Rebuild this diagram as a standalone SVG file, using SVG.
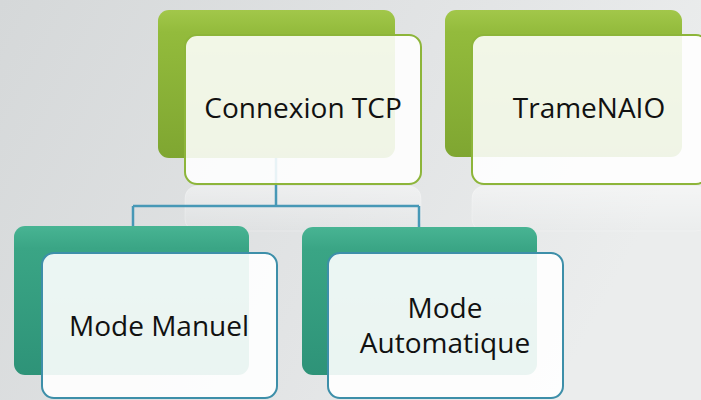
<svg xmlns="http://www.w3.org/2000/svg" width="701" height="400" viewBox="0 0 701 400">
<defs>
<linearGradient id="bg" x1="0" y1="0" x2="1" y2="0.3">
<stop offset="0" stop-color="#d5d8d9"/>
<stop offset="0.6" stop-color="#e2e4e5"/>
<stop offset="1" stop-color="#ebeded"/>
</linearGradient>
<linearGradient id="green" x1="0" y1="0" x2="0" y2="1">
<stop offset="0" stop-color="#a2c74a"/>
<stop offset="0.15" stop-color="#93bb3c"/>
<stop offset="1" stop-color="#7fa631"/>
</linearGradient>
<linearGradient id="teal" x1="0" y1="0" x2="0" y2="1">
<stop offset="0" stop-color="#48b493"/>
<stop offset="0.15" stop-color="#3aa585"/>
<stop offset="1" stop-color="#2e9378"/>
</linearGradient>
<linearGradient id="refl" x1="0" y1="0" x2="0" y2="1">
<stop offset="0" stop-color="#ffffff" stop-opacity="0.45"/>
<stop offset="1" stop-color="#ffffff" stop-opacity="0"/>
</linearGradient>
</defs>
<style>
.bgreen{fill:url(#green);}
.bteal{fill:url(#teal);}
.fgreen{fill:#ffffff;fill-opacity:0.88;stroke:#8db53a;stroke-width:2;}
.fteal{fill:#ffffff;fill-opacity:0.9;stroke:#3d8fa9;stroke-width:2;}
.refl{fill:url(#refl);stroke:#ffffff;stroke-opacity:0.25;}
.lbl{font-family:"Open Sans","DejaVu Sans",sans-serif;font-size:28px;fill:#111111;text-anchor:middle;}
.conn{fill:none;stroke:#4798b6;stroke-width:2.5;}
</style>
<rect x="0" y="0" width="701" height="400" fill="url(#bg)"/>
<g id="reflections">
<rect class="refl" x="185" y="186" width="236" height="45" rx="12"/>
<rect class="refl" x="472" y="186" width="236" height="45" rx="12"/>
</g>
<g id="connectors">
<path class="conn" d="M276,158 V206 M133,206 H419 M133,206 V226 M419,206 V227"/>
</g>
<g id="node-connexion">
<rect class="bgreen" x="158" y="10" width="237" height="148" rx="11"/>
<rect class="fgreen" x="185" y="35" width="236" height="149" rx="12"/>
<text class="lbl" x="303" y="118">Connexion TCP</text>
</g>
<g id="node-trame">
<rect class="bgreen" x="445" y="10" width="237" height="147" rx="11"/>
<rect class="fgreen" x="472" y="35" width="236" height="149" rx="12"/>
<text class="lbl" x="589" y="118">TrameNAIO</text>
</g>
<g id="node-manuel">
<rect class="bteal" x="14" y="226" width="235" height="149" rx="11"/>
<rect class="fteal" x="42" y="253" width="235" height="145" rx="12"/>
<text class="lbl" x="159" y="336">Mode Manuel</text>
</g>
<g id="node-auto">
<rect class="bteal" x="302" y="227" width="235" height="148" rx="11"/>
<rect class="fteal" x="328" y="253" width="235" height="145" rx="12"/>
<text class="lbl" x="445" y="318">Mode</text>
<text class="lbl" x="445" y="353">Automatique</text>
</g>
</svg>
